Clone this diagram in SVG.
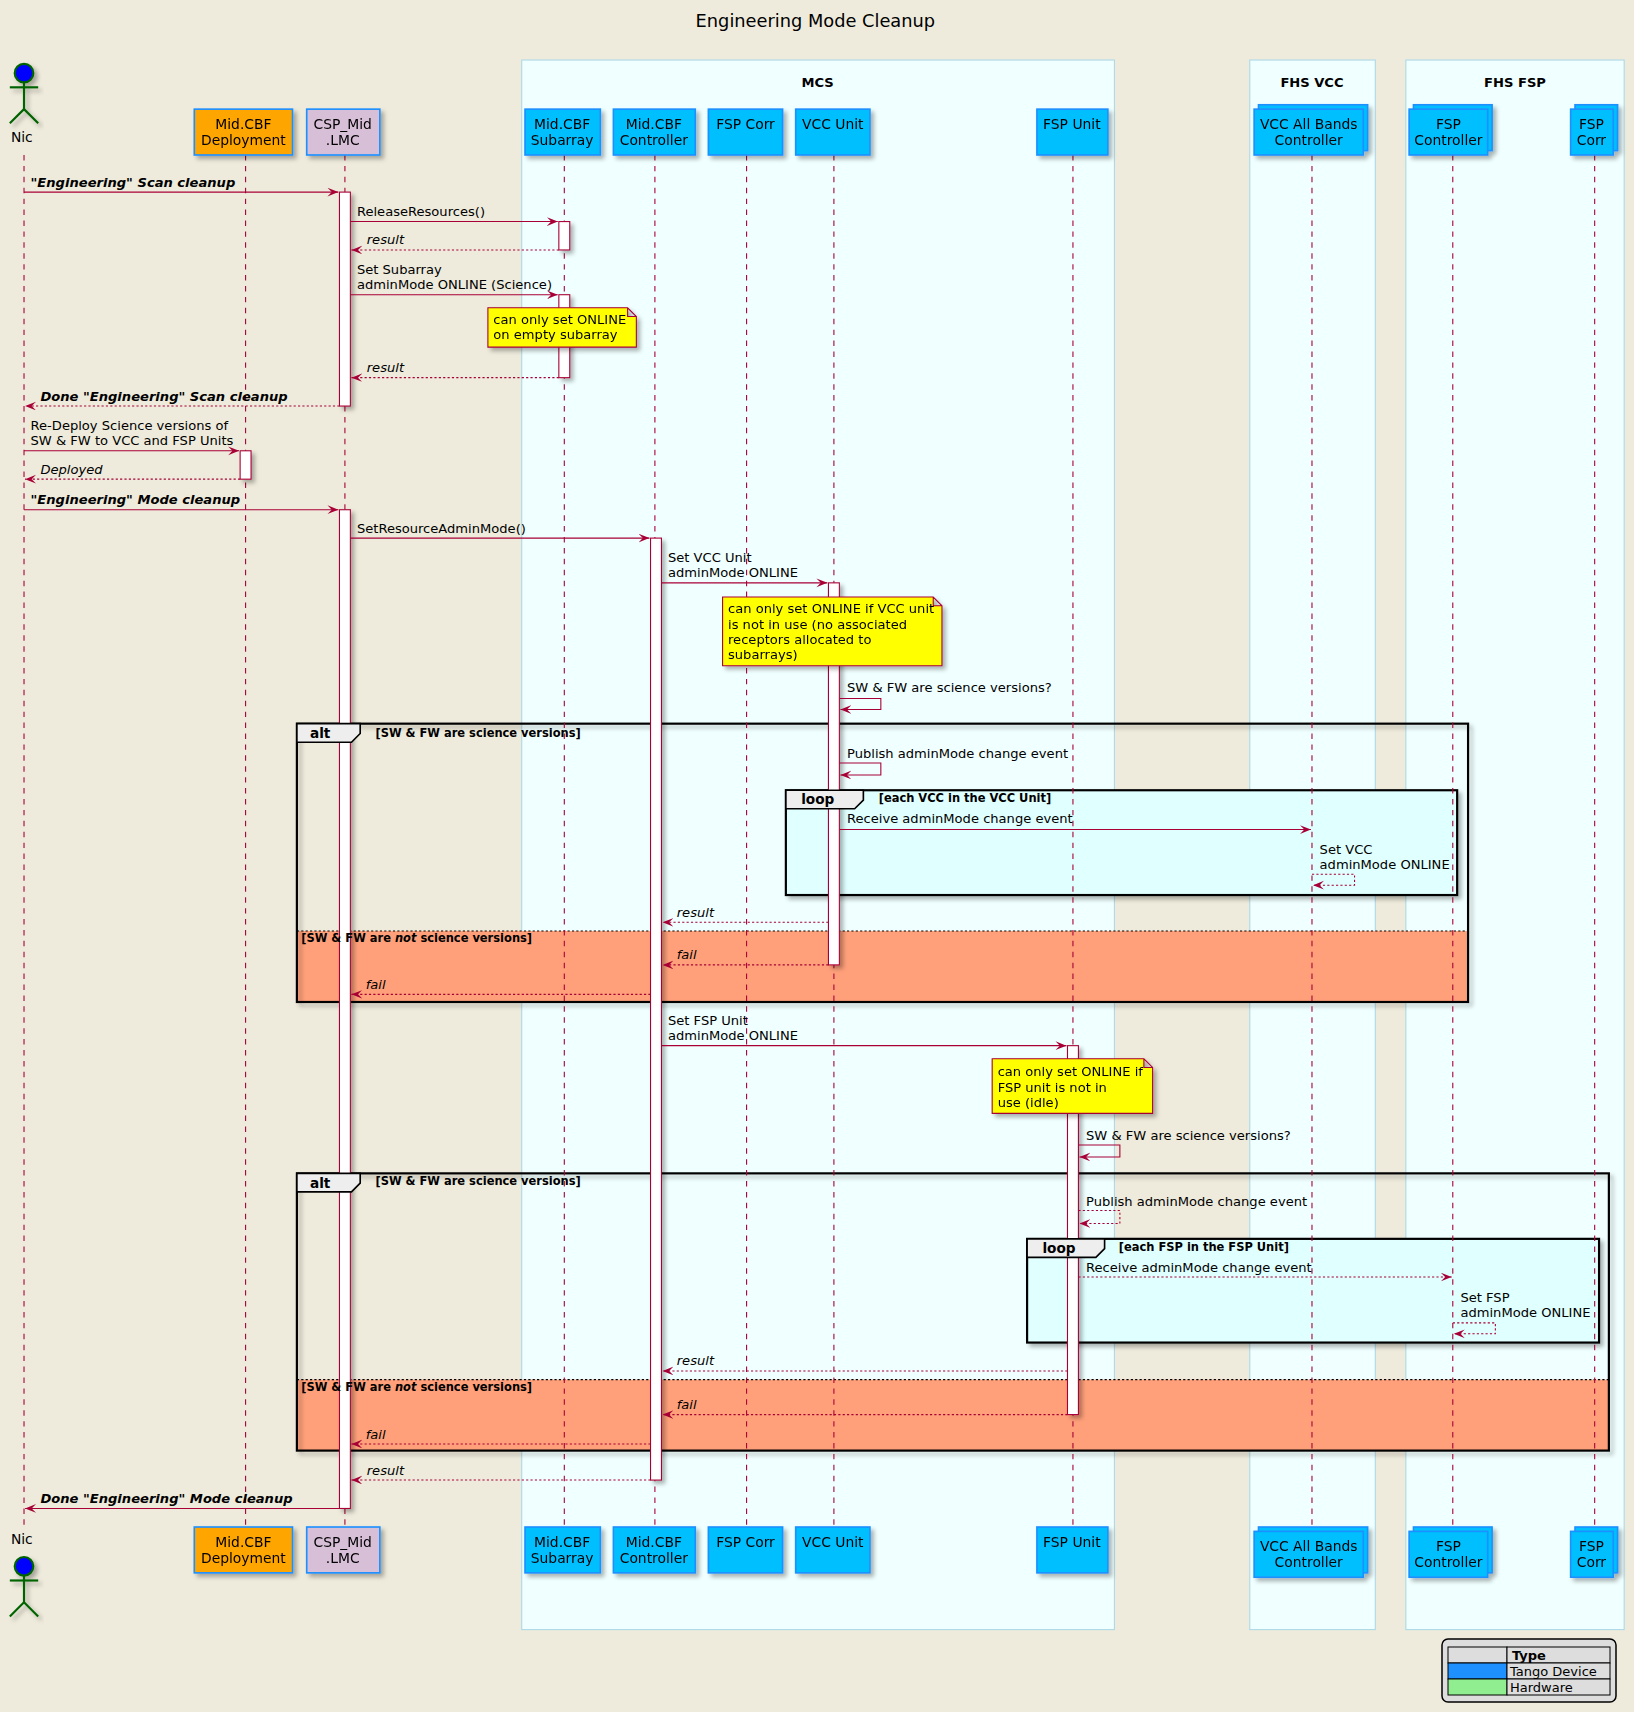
<svg xmlns="http://www.w3.org/2000/svg" width="1634" height="1712" viewBox="0 0 1634 1712">
<style>
text{font-family:"DejaVu Sans","Liberation Sans",sans-serif;fill:#000}
.m{font-size:12px}
.i{font-style:italic}
.b{font-weight:bold}
.bi{font-weight:bold;font-style:italic}
.g{font-size:12px;font-weight:bold}
.p{font-size:12.7px}
.life{stroke:#A80036;stroke-dasharray:5,5;stroke-width:1}
.act{fill:#fff;stroke:#A80036;stroke-width:1}
.sol{stroke:#A80036;fill:none;stroke-width:1;marker-end:url(#ah)}
.dsh{stroke:#A80036;fill:none;stroke-width:1;stroke-dasharray:2,2;marker-end:url(#ah)}
.dev{fill:#00BFFF;stroke:#1E90FF;stroke-width:1.5}
.note{fill:#FFFF00;stroke:#A80036}
.frame{fill:none;stroke:#000;stroke-width:2}
.tab{fill:#EEEEEE;stroke:#000;stroke-width:1.5}
.fl{font-size:10.5px;font-weight:bold}
.ft{font-size:12.5px;font-weight:bold}
.box{fill:#F0FFFF;stroke:#ADD8E6}
</style>
<defs>
<marker id="ah" markerWidth="12" markerHeight="10" refX="10" refY="4" orient="auto" markerUnits="userSpaceOnUse"><path d="M0,0 L10,4 L0,8 L4,4 Z" fill="#A80036"/></marker>
<filter id="sh" x="-10%" y="-10%" width="130%" height="130%"><feDropShadow dx="3" dy="3" stdDeviation="2" flood-color="#000" flood-opacity="0.3"/></filter>
</defs>
<rect width="1634" height="1712" fill="#EEEBDC"/>
<g transform="scale(1.0915)">
<text x="747" y="25" text-anchor="middle" style="font-size:16.3px">Engineering Mode Cleanup</text>
<g id="boxes">
<rect class="box" x="478" y="55" width="543" height="1438"/>
<text class="g" x="749" y="80" text-anchor="middle">MCS</text>
<rect class="box" x="1145" y="55" width="115" height="1438"/>
<text class="g" x="1202" y="80" text-anchor="middle">FHS VCC</text>
<rect class="box" x="1288" y="55" width="200" height="1438"/>
<text class="g" x="1388" y="80" text-anchor="middle">FHS FSP</text>
</g>
<g id="framebg">
<rect x="272" y="853" width="1072" height="65" fill="#FFA07A"/>
<rect x="272" y="1264" width="1202" height="65" fill="#FFA07A"/>
<rect x="720" y="724" width="615" height="96" fill="#E0FFFF" stroke="#000" stroke-width="2" filter="url(#sh)"/>
<rect x="941" y="1135" width="524" height="95" fill="#E0FFFF" stroke="#000" stroke-width="2" filter="url(#sh)"/>
<rect class="frame" x="272" y="663" width="1073" height="255" filter="url(#sh)"/>
<rect class="frame" x="272" y="1075" width="1202" height="254" filter="url(#sh)"/>
<line x1="272" y1="853" x2="1345" y2="853" stroke="#000" stroke-dasharray="2,2"/>
<line x1="272" y1="1264" x2="1474" y2="1264" stroke="#000" stroke-dasharray="2,2"/>
</g>
<g id="lifelines">
<line class="life" x1="22" y1="142" x2="22" y2="1399"/>
<line class="life" x1="225" y1="142" x2="225" y2="1399"/>
<line class="life" x1="316" y1="142" x2="316" y2="1399"/>
<line class="life" x1="517" y1="142" x2="517" y2="1399"/>
<line class="life" x1="600" y1="142" x2="600" y2="1399"/>
<line class="life" x1="684" y1="142" x2="684" y2="1399"/>
<line class="life" x1="764" y1="142" x2="764" y2="1399"/>
<line class="life" x1="983" y1="142" x2="983" y2="1399"/>
<line class="life" x1="1202" y1="142" x2="1202" y2="1399"/>
<line class="life" x1="1331" y1="142" x2="1331" y2="1399"/>
<line class="life" x1="1461" y1="142" x2="1461" y2="1399"/>
</g>
<g id="Nic">
<g stroke="#006400" stroke-width="2" fill="none" filter="url(#sh)">
<circle cx="22" cy="67" r="8.5" fill="#0000FF"/><line x1="22" y1="75.5" x2="22" y2="100"/><line x1="9" y1="80" x2="35" y2="80"/><polyline points="9,113 22,100 35,113"/>
</g>
<text class="p" x="20" y="130" text-anchor="middle">Nic</text>
<g stroke="#006400" stroke-width="2" fill="none" filter="url(#sh)">
<circle cx="22" cy="1435" r="8.5" fill="#0000FF"/><line x1="22" y1="1443.5" x2="22" y2="1468"/><line x1="9" y1="1448" x2="35" y2="1448"/><polyline points="9,1481 22,1468 35,1481"/>
</g>
<text class="p" x="20" y="1415" text-anchor="middle">Nic</text>
</g>
<g id="Deployment" filter="url(#sh)">
<rect x="178" y="100" width="90" height="42" fill="#FFA500" stroke="#1E90FF" stroke-width="1.5"/>
<text class="p" x="223" y="118" text-anchor="middle">Mid.CBF</text><text class="p" x="223" y="133" text-anchor="middle">Deployment</text>
<rect x="178" y="1399" width="90" height="42" fill="#FFA500" stroke="#1E90FF" stroke-width="1.5"/>
<text class="p" x="223" y="1417" text-anchor="middle">Mid.CBF</text><text class="p" x="223" y="1432" text-anchor="middle">Deployment</text>
</g>
<g id="LMC" filter="url(#sh)">
<rect x="281" y="100" width="67" height="42" fill="#D8BFD8" stroke="#1E90FF" stroke-width="1.5"/>
<text class="p" x="314" y="118" text-anchor="middle">CSP_Mid</text><text class="p" x="314" y="133" text-anchor="middle">.LMC</text>
<rect x="281" y="1399" width="67" height="42" fill="#D8BFD8" stroke="#1E90FF" stroke-width="1.5"/>
<text class="p" x="314" y="1417" text-anchor="middle">CSP_Mid</text><text class="p" x="314" y="1432" text-anchor="middle">.LMC</text>
</g>
<g id="Subarray" filter="url(#sh)">
<rect class="dev" x="481" y="100" width="69" height="42"/>
<text class="p" x="515" y="118" text-anchor="middle">Mid.CBF</text><text class="p" x="515" y="133" text-anchor="middle">Subarray</text>
<rect class="dev" x="481" y="1399" width="69" height="42"/>
<text class="p" x="515" y="1417" text-anchor="middle">Mid.CBF</text><text class="p" x="515" y="1432" text-anchor="middle">Subarray</text>
</g>
<g id="Controller" filter="url(#sh)">
<rect class="dev" x="562" y="100" width="75" height="42"/>
<text class="p" x="599" y="118" text-anchor="middle">Mid.CBF</text><text class="p" x="599" y="133" text-anchor="middle">Controller</text>
<rect class="dev" x="562" y="1399" width="75" height="42"/>
<text class="p" x="599" y="1417" text-anchor="middle">Mid.CBF</text><text class="p" x="599" y="1432" text-anchor="middle">Controller</text>
</g>
<g id="FSPCorr" filter="url(#sh)">
<rect class="dev" x="649" y="100" width="68" height="42"/>
<text class="p" x="683" y="118" text-anchor="middle">FSP Corr</text>
<rect class="dev" x="649" y="1399" width="68" height="42"/>
<text class="p" x="683" y="1417" text-anchor="middle">FSP Corr</text>
</g>
<g id="VCCUnit" filter="url(#sh)">
<rect class="dev" x="729" y="100" width="68" height="42"/>
<text class="p" x="763" y="118" text-anchor="middle">VCC Unit</text>
<rect class="dev" x="729" y="1399" width="68" height="42"/>
<text class="p" x="763" y="1417" text-anchor="middle">VCC Unit</text>
</g>
<g id="FSPUnit" filter="url(#sh)">
<rect class="dev" x="950" y="100" width="65" height="42"/>
<text class="p" x="982" y="118" text-anchor="middle">FSP Unit</text>
<rect class="dev" x="950" y="1399" width="65" height="42"/>
<text class="p" x="982" y="1417" text-anchor="middle">FSP Unit</text>
</g>
<g id="VCCAllBands" filter="url(#sh)">
<rect class="dev" x="1153" y="96" width="100" height="42"/>
<rect class="dev" x="1149" y="100" width="100" height="42"/>
<text class="p" x="1199" y="118" text-anchor="middle">VCC All Bands</text><text class="p" x="1199" y="133" text-anchor="middle">Controller</text>
<rect class="dev" x="1153" y="1399" width="100" height="42"/>
<rect class="dev" x="1149" y="1403" width="100" height="42"/>
<text class="p" x="1199" y="1421" text-anchor="middle">VCC All Bands</text><text class="p" x="1199" y="1436" text-anchor="middle">Controller</text>
</g>
<g id="FSPController" filter="url(#sh)">
<rect class="dev" x="1295" y="96" width="72" height="42"/>
<rect class="dev" x="1291" y="100" width="72" height="42"/>
<text class="p" x="1327" y="118" text-anchor="middle">FSP</text><text class="p" x="1327" y="133" text-anchor="middle">Controller</text>
<rect class="dev" x="1295" y="1399" width="72" height="42"/>
<rect class="dev" x="1291" y="1403" width="72" height="42"/>
<text class="p" x="1327" y="1421" text-anchor="middle">FSP</text><text class="p" x="1327" y="1436" text-anchor="middle">Controller</text>
</g>
<g id="FSPCorrHW" filter="url(#sh)">
<rect class="dev" x="1443" y="96" width="39" height="42"/>
<rect class="dev" x="1439" y="100" width="39" height="42"/>
<text class="p" x="1458" y="118" text-anchor="middle">FSP</text><text class="p" x="1458" y="133" text-anchor="middle">Corr</text>
<rect class="dev" x="1443" y="1399" width="39" height="42"/>
<rect class="dev" x="1439" y="1403" width="39" height="42"/>
<text class="p" x="1458" y="1421" text-anchor="middle">FSP</text><text class="p" x="1458" y="1436" text-anchor="middle">Corr</text>
</g>
<g id="activations" filter="url(#sh)">
<rect class="act" x="311" y="176" width="10" height="196"/>
<rect class="act" x="512" y="203" width="10" height="26"/>
<rect class="act" x="512" y="270" width="10" height="76"/>
<rect class="act" x="220" y="413" width="10" height="26"/>
<rect class="act" x="311" y="467" width="10" height="915"/>
<rect class="act" x="596" y="493" width="10" height="863"/>
<rect class="act" x="759" y="534" width="10" height="350"/>
<rect class="act" x="978" y="958" width="10" height="338"/>
</g>
<g id="frametabs">
<path class="tab" d="M272,663 H330 V672 L322,680 H272 Z"/>
<text class="ft" x="284" y="676">alt</text>
<text class="fl" x="344" y="675">[SW &amp; FW are science versions]</text>
<text class="fl" x="276" y="863">[SW &amp; FW are <tspan font-style="italic">not</tspan> science versions]</text>
<path class="tab" d="M272,1075 H330 V1084 L322,1092 H272 Z"/>
<text class="ft" x="284" y="1088">alt</text>
<text class="fl" x="344" y="1086">[SW &amp; FW are science versions]</text>
<text class="fl" x="276" y="1274">[SW &amp; FW are <tspan font-style="italic">not</tspan> science versions]</text>
<path class="tab" d="M720,724 H791 V733 L783,741 H720 Z"/>
<text class="ft" x="734" y="737">loop</text>
<text class="fl" x="805" y="735">[each VCC in the VCC Unit]</text>
<path class="tab" d="M941,1135 H1012 V1144 L1004,1152 H941 Z"/>
<text class="ft" x="955" y="1148">loop</text>
<text class="fl" x="1025" y="1146">[each FSP in the FSP Unit]</text>
</g>
<g id="notes" filter="url(#sh)">
<path class="note" d="M447,282 H575 L583,290 V318 H447 Z M575,282 V290 H583" />
<text class="m" x="452" y="297">can only set ONLINE</text><text class="m" x="452" y="311">on empty subarray</text>
<path class="note" d="M662,547 H855 L863,555 V610 H662 Z M855,547 V555 H863"/>
<text class="m" x="667" y="562">can only set ONLINE if VCC unit</text><text class="m" x="667" y="576">is not in use (no associated</text><text class="m" x="667" y="590">receptors allocated to</text><text class="m" x="667" y="604">subarrays)</text>
<path class="note" d="M909,970 H1048 L1056,978 V1020 H909 Z M1048,970 V978 H1056"/>
<text class="m" x="914" y="986">can only set ONLINE if</text><text class="m" x="914" y="1000">FSP unit is not in</text><text class="m" x="914" y="1014">use (idle)</text>
</g>
<g id="connectors">
<line class="sol" x1="22" y1="176" x2="310" y2="176"/>
<text class="m bi" x="28" y="171">"Engineering"  Scan cleanup</text>
<line class="sol" x1="321" y1="203" x2="511" y2="203"/>
<text class="m" x="327" y="198">ReleaseResources()</text>
<line class="dsh" x1="512" y1="229" x2="322" y2="229"/>
<text class="m i" x="336" y="224">result</text>
<line class="sol" x1="321" y1="270" x2="511" y2="270"/>
<text class="m" x="327" y="251">Set Subarray</text><text class="m" x="327" y="265">adminMode ONLINE (Science)</text>
<line class="dsh" x1="512" y1="346" x2="322" y2="346"/>
<text class="m i" x="336" y="341">result</text>
<line class="dsh" x1="311" y1="372" x2="23" y2="372"/>
<text class="m bi" x="37" y="367">Done "Engineering"  Scan cleanup</text>
<line class="sol" x1="22" y1="413" x2="219" y2="413"/>
<text class="m" x="28" y="394">Re-Deploy Science versions of</text><text class="m" x="28" y="408">SW &amp; FW to VCC and FSP Units</text>
<line class="dsh" x1="220" y1="439" x2="23" y2="439"/>
<text class="m i" x="37" y="434">Deployed</text>
<line class="sol" x1="22" y1="467" x2="310" y2="467"/>
<text class="m bi" x="28" y="462">"Engineering"  Mode cleanup</text>
<line class="sol" x1="321" y1="493" x2="595" y2="493"/>
<text class="m" x="327" y="488">SetResourceAdminMode()</text>
<line class="sol" x1="606" y1="534" x2="758" y2="534"/>
<text class="m" x="612" y="515">Set VCC Unit</text><text class="m" x="612" y="529">adminMode ONLINE</text>
<polyline class="sol" points="769,640 807,640 807,650 770,650"/>
<text class="m" x="776" y="634">SW &amp; FW are science versions?</text>
<polyline class="sol" points="769,699 807,699 807,710 770,710"/>
<text class="m" x="776" y="694">Publish adminMode change event</text>
<line class="sol" x1="769" y1="760" x2="1201" y2="760"/>
<text class="m" x="776" y="754">Receive adminMode change event</text>
<polyline class="dsh" points="1202,801 1241,801 1241,811 1203,811"/>
<text class="m" x="1209" y="782">Set VCC</text><text class="m" x="1209" y="796">adminMode ONLINE</text>
<line class="dsh" x1="759" y1="845" x2="607" y2="845"/>
<text class="m i" x="620" y="840">result</text>
<line class="dsh" x1="759" y1="884" x2="607" y2="884"/>
<text class="m i" x="620" y="879">fail</text>
<line class="dsh" x1="596" y1="911" x2="322" y2="911"/>
<text class="m i" x="335" y="906">fail</text>
<line class="sol" x1="606" y1="958" x2="977" y2="958"/>
<text class="m" x="612" y="939">Set FSP Unit</text><text class="m" x="612" y="953">adminMode ONLINE</text>
<polyline class="sol" points="988,1049 1026,1049 1026,1060 989,1060"/>
<text class="m" x="995" y="1044">SW &amp; FW are science versions?</text>
<polyline class="dsh" points="988,1109 1026,1109 1026,1121 989,1121"/>
<text class="m" x="995" y="1105">Publish adminMode change event</text>
<line class="dsh" x1="988" y1="1170" x2="1330" y2="1170"/>
<text class="m" x="995" y="1165">Receive adminMode change event</text>
<polyline class="dsh" points="1331,1212 1370,1212 1370,1222 1332,1222"/>
<text class="m" x="1338" y="1193">Set FSP</text><text class="m" x="1338" y="1207">adminMode ONLINE</text>
<line class="dsh" x1="978" y1="1256" x2="607" y2="1256"/>
<text class="m i" x="620" y="1251">result</text>
<line class="dsh" x1="978" y1="1296" x2="607" y2="1296"/>
<text class="m i" x="620" y="1291">fail</text>
<line class="dsh" x1="596" y1="1323" x2="322" y2="1323"/>
<text class="m i" x="335" y="1318">fail</text>
<line class="dsh" x1="596" y1="1356" x2="322" y2="1356"/>
<text class="m i" x="336" y="1351">result</text>
<line class="sol" x1="311" y1="1382" x2="23" y2="1382"/>
<text class="m bi" x="37" y="1377">Done "Engineering"  Mode cleanup</text>
</g>
</g>
<g id="legend">
<rect x="1442" y="1639" width="174" height="63" rx="6" fill="#DDDDDD" stroke="#000" stroke-width="1.5"/>
<rect x="1448" y="1647" width="59" height="16" fill="#DDDDDD" stroke="#000"/>
<rect x="1507" y="1647" width="103" height="16" fill="#DDDDDD" stroke="#000"/>
<rect x="1448" y="1663" width="59" height="16" fill="#1E90FF" stroke="#000"/>
<rect x="1507" y="1663" width="103" height="16" fill="#DDDDDD" stroke="#000"/>
<rect x="1448" y="1679" width="59" height="16" fill="#90EE90" stroke="#000"/>
<rect x="1507" y="1679" width="103" height="16" fill="#DDDDDD" stroke="#000"/>
<text x="1512" y="1660" style="font-size:13px;font-weight:bold">Type</text>
<text x="1510" y="1676" style="font-size:13px">Tango Device</text>
<text x="1510" y="1692" style="font-size:13px">Hardware</text>
</g>
</svg>
